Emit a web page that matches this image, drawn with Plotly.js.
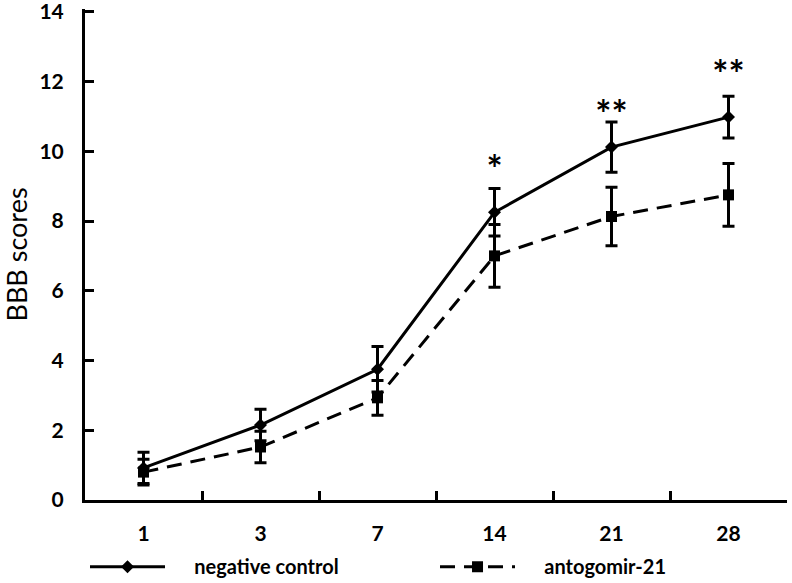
<!DOCTYPE html>
<html>
<head>
<meta charset="utf-8">
<script src="https://cdn.plot.ly/plotly-3.0.1.min.js"></script>
<style>html,body{margin:0;padding:0;background:#fff;}#chart{width:792px;height:583px;}</style>
</head>
<body>
<div id="chart"></div>
<script>
const days = ['1', '3', '7', '14', '21', '28'];
const controlMean = [0.92, 2.15, 3.75, 8.25, 10.12, 10.98];
const controlErr = [0.45, 0.45, 0.65, 0.68, 0.72, 0.6];
const antagoMean = [0.8, 1.52, 2.93, 7.0, 8.13, 8.75];
const antagoErr = [0.37, 0.45, 0.5, 0.9, 0.84, 0.9];
const sigLabels = ['', '', '', '*', '**', '**'];
const sigY = [null, null, null, 9.35, 10.93, 12.08];
const yTicks = [0, 2, 4, 6, 8, 10, 12, 14];
const seriesNames = ['negative control', 'antogomir-21'];

const FONT = 'Lato, "Open Sans", sans-serif';
const PAD = '\u00a0\u00a0\u00a0\u00a0\u00a0';

const traces = [
  {
    x: days, y: controlMean, name: PAD + seriesNames[0], type: 'scatter', mode: 'lines+markers',
    line: {color: '#000', width: 3},
    marker: {symbol: 'diamond', size: 10, color: '#000'},
    error_y: {type: 'data', array: controlErr, visible: true, color: '#000', thickness: 3, width: 6},
    legend: 'legend'
  },
  {
    x: days, y: antagoMean, name: PAD + seriesNames[1], type: 'scatter', mode: 'lines+markers',
    line: {color: '#000', width: 3, dash: '15px,9px'},
    marker: {symbol: 'square', size: 11, color: '#000'},
    error_y: {type: 'data', array: antagoErr, visible: true, color: '#000', thickness: 3, width: 6},
    legend: 'legend2'
  },
  {
    x: days, y: sigY, text: sigLabels, mode: 'text', type: 'scatter', showlegend: false,
    textfont: {family: FONT, size: 38, color: '#000', weight: 'bold'}, hoverinfo: 'skip',
    textposition: 'middle center'
  }
];

const legendBase = {
  orientation: 'h', xanchor: 'left', yref: 'container', y: 0.028, yanchor: 'middle',
  font: {family: FONT, size: 20, color: '#000', weight: 'bold'},
  itemwidth: 75, bgcolor: 'rgba(0,0,0,0)'
};

const layout = {
  width: 792, height: 583,
  margin: {l: 85, r: 5, t: 9, b: 83},
  paper_bgcolor: '#fff', plot_bgcolor: '#fff',
  font: {family: FONT, color: '#000'},
  xaxis: {
    type: 'category', range: [-0.5, 5.5],
    showline: true, linecolor: '#000', linewidth: 3,
    ticks: 'inside', tickson: 'boundaries', ticklen: 9, tickwidth: 3, tickcolor: '#000',
    showgrid: false, zeroline: false,
    tickfont: {family: FONT, size: 21, color: '#000', weight: 'bold'},
    ticklabelstandoff: 13
  },
  yaxis: {
    range: [0, 14.08], tickmode: 'array', tickvals: yTicks,
    showline: true, linecolor: '#000', linewidth: 3,
    ticks: 'inside', ticklen: 9, tickwidth: 3, tickcolor: '#000',
    showgrid: false, zeroline: false,
    tickfont: {family: FONT, size: 21, color: '#000', weight: 'bold'},
    ticklabelstandoff: 14, ticklabeloverflow: 'allow',
    title: {text: 'BBB scores', font: {family: FONT, size: 27, color: '#000'}, standoff: 14}
  },
  showlegend: true,
  legend: Object.assign({}, legendBase, {x: 0.0}),
  legend2: Object.assign({}, legendBase, {x: 0.4986})
};

Plotly.newPlot('chart', traces, layout, {displayModeBar: false, staticPlot: true});
</script>
</body>
</html>
